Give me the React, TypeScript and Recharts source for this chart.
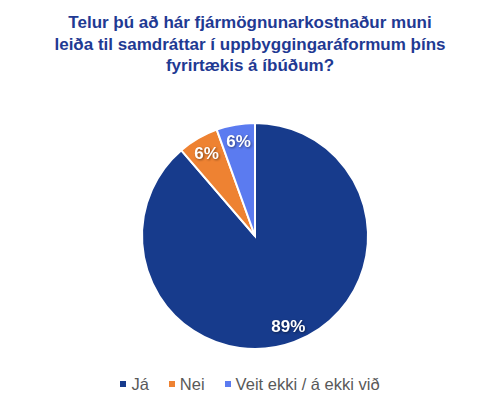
import { PieChart, Pie, Cell, Legend } from 'recharts';

const categories = ['Já', 'Nei', 'Veit ekki / á ekki við'];
const shares = [88.7, 5.8, 5.5];
const colors = ['#173B8C', '#EE8232', '#5B7BF0'];
const titleLines = [
  'Telur þú að hár fjármögnunarkostnaður muni',
  'leiða til samdráttar í uppbyggingaráformum þíns',
  'fyrirtækis á íbúðum?',
];

const data = categories.map((name, i) => ({ name, value: shares[i] }));
const RAD = Math.PI / 180;

const renderLabel = (p: any) => {
  const r = p.outerRadius * 0.85;
  const x = p.cx + r * Math.cos(-p.midAngle * RAD);
  const y = p.cy + r * Math.sin(-p.midAngle * RAD);
  return (
    <text
      x={x}
      y={y}
      fill="#fff"
      textAnchor="middle"
      dominantBaseline="central"
      fontSize={17}
      fontWeight="bold"
      style={{ filter: 'drop-shadow(1px 1px 1px rgba(0,0,0,0.45))' }}
    >
      {`${Math.round(p.value)}%`}
    </text>
  );
};

const renderLegend = () => (
  <div style={{ display: 'flex', justifyContent: 'center', gap: 20, fontSize: 16.5, lineHeight: '20px', color: '#595959' }}>
    {categories.map((c, i) => (
      <span key={c} style={{ display: 'flex', alignItems: 'center' }}>
        <span style={{ width: 6, height: 6, background: colors[i], marginRight: 5, display: 'inline-block' }} />
        {c}
      </span>
    ))}
  </div>
);

export default function App() {
  return (
    <div style={{ position: 'fixed', left: 0, top: 0, width: 500, height: 412, background: '#fff', fontFamily: 'Liberation Sans, Arial, sans-serif' }}>
      <div
        style={{
          position: 'absolute',
          top: 12,
          left: 0,
          width: 500,
          textAlign: 'center',
          color: '#1F3A93',
          fontWeight: 'bold',
          fontSize: 17,
          lineHeight: '21.5px',
        }}
      >
        {titleLines.map((l) => (
          <div key={l}>{l}</div>
        ))}
      </div>
      <PieChart width={500} height={412}>
        <Pie
          data={data}
          dataKey="value"
          nameKey="name"
          cx={250}
          cy={231}
          outerRadius={113}
          startAngle={90}
          endAngle={-270}
          stroke="#fff"
          strokeWidth={2}
          label={renderLabel}
          labelLine={false}
          isAnimationActive={false}
        >
          {data.map((d, i) => (
            <Cell key={d.name} fill={colors[i]} />
          ))}
        </Pie>
        <Legend content={renderLegend} wrapperStyle={{ top: 374, left: 0, width: 500 }} />
      </PieChart>
    </div>
  );
}
